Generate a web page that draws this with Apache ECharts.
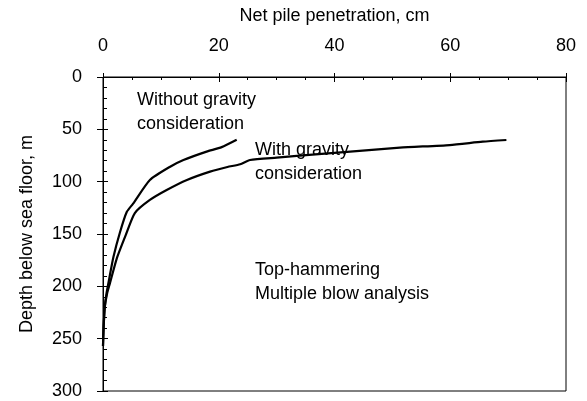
<!DOCTYPE html>
<html>
<head>
<meta charset="utf-8">
<script src="https://cdn.jsdelivr.net/npm/echarts@6/dist/echarts.min.js"></script>
<style>
  html, body { margin: 0; padding: 0; background: #fff; }
  #chart { width: 587px; height: 401px; }
</style>
</head>
<body>
<div id="chart"></div>
<script>
// penetration (cm) vs depth (m)
var withoutX     = [0, 0.1, 0.3, 0.6, 1.1, 1.8, 2.9, 4.1, 5.2, 8.1, 11.6, 13.9, 17.9, 20.5, 23.1];
var withoutDepth = [257, 240, 220, 207, 192, 172, 149, 129, 121, 98.4, 85.7, 79.3, 71.3, 67, 60];
var withX        = [0, 0.1, 0.3, 0.7, 1.2, 2.4, 4.0, 5.5, 8.1, 11, 14.5, 18.5, 21.5, 23.7, 25.4, 30, 34, 42.7, 51.3, 59.9, 65.6, 69.7];
var withDepth    = [257, 240, 220, 207, 197, 173, 150, 130, 117.5, 108, 98.4, 90.4, 86, 83.4, 79.3, 77, 75.2, 71.3, 67.5, 65, 61.8, 60.2];
var xTicks = [0, 20, 40, 60, 80];
var yTicks = [0, 50, 100, 150, 200, 250, 300];

function pairs(xs, ys) {
    return xs.map(function (x, i) { return [x, ys[i]]; });
}

var font = 'Liberation Sans, Arial, sans-serif';
var chart = echarts.init(document.getElementById('chart'));

chart.setOption({
    animation: false,
    grid: {
        left: 103, right: 21, top: 77, bottom: 10,
        show: true, borderColor: '#000', borderWidth: 1
    },
    xAxis: [
        {
            type: 'value', position: 'top', min: xTicks[0], max: xTicks[xTicks.length - 1], interval: 20,
            name: 'Net pile penetration, cm', nameLocation: 'middle', nameGap: 52,
            nameTextStyle: { color: '#000', fontSize: 18, fontFamily: font },
            axisLine: { lineStyle: { color: '#000', width: 1 } },
            axisTick: { inside: true, length: 5, lineStyle: { color: '#000' } },
            minorTick: { show: true, splitNumber: 4, length: 3, lineStyle: { color: '#000' } },
            axisLabel: { color: '#000', fontSize: 18, fontFamily: font, margin: 22 },
            splitLine: { show: false }
        },
        {
            // outward half of the major ticks
            type: 'value', position: 'top', min: 0, max: 80, interval: 20,
            axisLine: { show: false },
            axisTick: { inside: false, length: 4, lineStyle: { color: '#000' } },
            axisLabel: { show: false },
            splitLine: { show: false }
        }
    ],
    yAxis: [
        {
            type: 'value', inverse: true, min: yTicks[0], max: yTicks[yTicks.length - 1], interval: 50,
            name: 'Depth below sea floor, m', nameLocation: 'middle', nameGap: 67,
            nameTextStyle: { color: '#000', fontSize: 18, fontFamily: font },
            axisLine: { lineStyle: { color: '#000', width: 1 } },
            axisTick: { inside: false, length: 6, lineStyle: { color: '#000' } },
            axisLabel: { color: '#000', fontSize: 18, fontFamily: font, margin: 21 },
            splitLine: { show: false }
        },
        {
            // inward minor ticks on the depth axis
            type: 'value', position: 'left', inverse: true, min: 0, max: 300, interval: 50,
            axisLine: { show: false },
            axisTick: { inside: true, length: 5, lineStyle: { color: '#000' } },
            minorTick: { show: true, splitNumber: 5, length: 4, lineStyle: { color: '#000' } },
            axisLabel: { show: false },
            splitLine: { show: false }
        }
    ],
    series: [
        {
            name: 'Without gravity consideration',
            type: 'line', showSymbol: false, smooth: 0.2,
            lineStyle: { color: '#000', width: 2.2 },
            data: pairs(withoutX, withoutDepth)
        },
        {
            name: 'With gravity consideration',
            type: 'line', showSymbol: false, smooth: 0.2,
            lineStyle: { color: '#000', width: 2.2 },
            data: pairs(withX, withDepth)
        }
    ],
    graphic: [
        { type: 'text', left: 137, top: 88, style: { text: 'Without gravity\nconsideration', fill: '#000', font: '18px ' + font, lineHeight: 24 } },
        { type: 'text', left: 255, top: 138, style: { text: 'With gravity\nconsideration', fill: '#000', font: '18px ' + font, lineHeight: 24 } },
        { type: 'text', left: 255, top: 258, style: { text: 'Top-hammering\nMultiple blow analysis', fill: '#000', font: '18px ' + font, lineHeight: 24 } }
    ]
});
</script>
</body>
</html>
